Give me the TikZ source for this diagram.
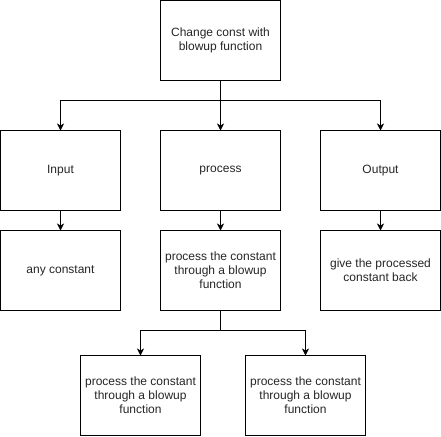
\documentclass[tikz,border=0pt]{standalone}
\usepackage{fontspec}
\setmainfont{Liberation Sans}
\usetikzlibrary{arrows.meta}
\begin{document}
\begin{tikzpicture}[x=1pt,y=-1pt,
  box/.style={draw=black,line width=1pt,fill=white,minimum width=120pt,minimum height=80pt,
    inner sep=0pt,outer sep=0pt,align=center,font=\fontsize{12}{14}\selectfont,text=black!85},
  arr/.style={draw=black,line width=1pt,-{Stealth[length=7pt,width=7pt,inset=2pt]}},
  ln/.style={draw=black,line width=1pt}]
\useasboundingbox (0,0) rectangle (441,436);
\node[box] (top) at (220.5,40.5) {Change const with\\blowup function};
\node[box] (in1) at (60.5,170.5) {Input};
\node[box] (pr1) at (220.5,170.5) {process};
\node[box] (out1) at (380.5,170.5) {Output};
\node[box] (in2) at (60.5,270.5) {any constant};
\node[box] (pr2) at (220.5,270.5) {process the constant\\through a blowup\\function};
\node[box] (out2) at (380.5,270.5) {give the processed\\constant back};
\node[box] (b1) at (140.5,395.5) {process the constant\\through a blowup\\function};
\node[box] (b2) at (305.5,395.5) {process the constant\\through a blowup\\function};
\coordinate (j1) at (220.5,100.5);
\coordinate (j2) at (220.5,330.5);
\draw[ln] (top.south) -- (j1);
\draw[arr] (j1) -| (in1.north);
\draw[arr] (j1) -- (pr1.north);
\draw[arr] (j1) -| (out1.north);
\draw[arr] (in1.south) -- (in2.north);
\draw[arr] (pr1.south) -- (pr2.north);
\draw[arr] (out1.south) -- (out2.north);
\draw[ln] (pr2.south) -- (j2);
\draw[arr] (j2) -| (b1.north);
\draw[arr] (j2) -| (b2.north);
\end{tikzpicture}
\end{document}
